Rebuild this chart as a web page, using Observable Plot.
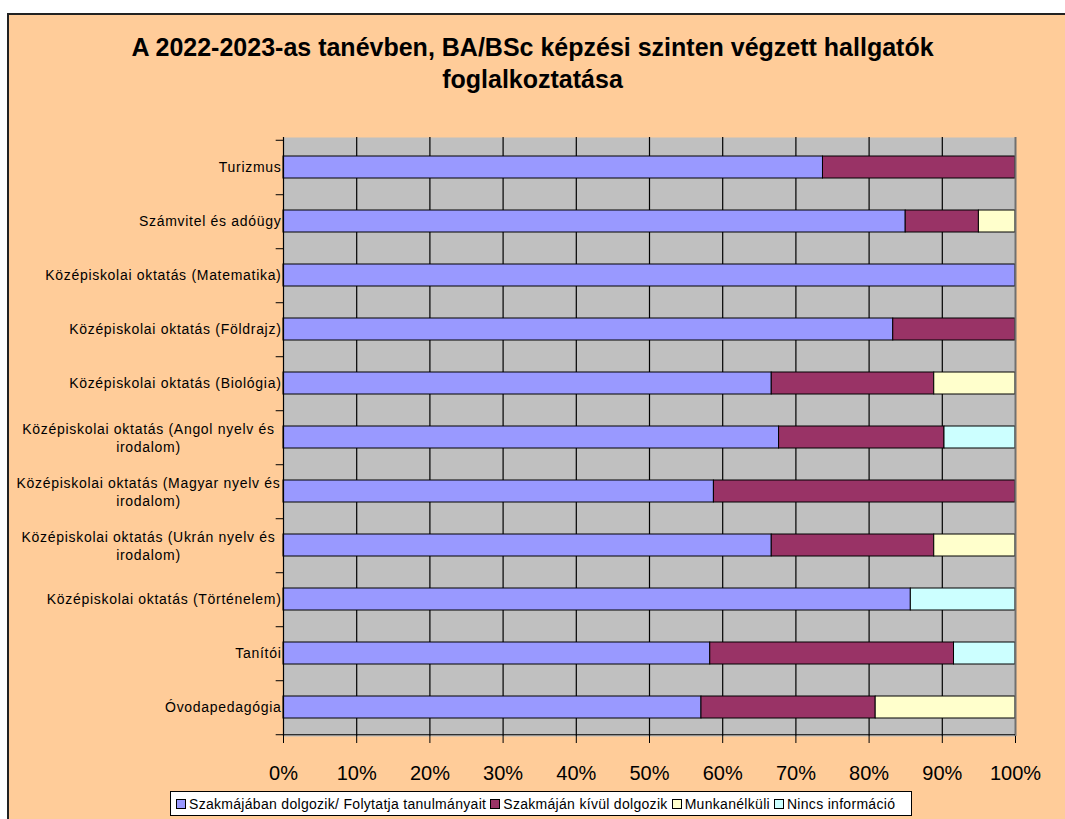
<!DOCTYPE html>
<html><head><meta charset="utf-8">
<script src="https://cdn.jsdelivr.net/npm/d3@7"></script>
<script src="https://cdn.jsdelivr.net/npm/@observablehq/plot@0.6"></script>
<style>
body{margin:0;background:#fff;font-family:"Liberation Sans",Arial,sans-serif;overflow:hidden;}
#frame{position:absolute;left:7px;top:13px;width:1070px;height:820px;background:#FFCC99;border-left:2px solid #222;border-top:2px solid #222;}
#title{position:absolute;left:0;top:31px;width:1065px;text-align:center;font-weight:bold;font-size:25px;line-height:32px;color:#000;}
#chart{position:absolute;left:0;top:100px;}
#chart g[aria-label="text"] text{letter-spacing:0.7px;}
#legend{position:absolute;left:170px;top:791px;width:742px;height:25px;background:#fff;border:1px solid #000;box-sizing:border-box;display:flex;align-items:center;font-size:14px;letter-spacing:0.3px;padding-left:5px;white-space:nowrap;}
#legend .sw{display:inline-block;width:8px;height:8px;border:1px solid #000;margin-right:3px;}
#legend .it{margin-right:4px;display:flex;align-items:center;}
</style>
</head><body>
<div id="frame"></div>
<div id="title">A 2022-2023-as tanévben, BA/BSc képzési szinten végzett hallgatók<br>foglalkoztatása</div>
<div id="chart"></div>
<div id="legend"></div>
<script>
const categories = [
  "Turizmus",
  "Számvitel és adóügy",
  "Középiskolai oktatás (Matematika)",
  "Középiskolai oktatás (Földrajz)",
  "Középiskolai oktatás (Biológia)",
  "Középiskolai oktatás (Angol nyelv és irodalom)",
  "Középiskolai oktatás (Magyar nyelv és irodalom)",
  "Középiskolai oktatás (Ukrán nyelv és irodalom)",
  "Középiskolai oktatás (Történelem)",
  "Tanítói",
  "Óvodapedagógia"
];
const categoryLabels = [
  "Turizmus",
  "Számvitel és adóügy",
  "Középiskolai oktatás (Matematika)",
  "Középiskolai oktatás (Földrajz)",
  "Középiskolai oktatás (Biológia)",
  "Középiskolai oktatás (Angol nyelv és\nirodalom)",
  "Középiskolai oktatás (Magyar nyelv és\nirodalom)",
  "Középiskolai oktatás (Ukrán nyelv és\nirodalom)",
  "Középiskolai oktatás (Történelem)",
  "Tanítói",
  "Óvodapedagógia"
];
const seriesNames = ["Szakmájában dolgozik/ Folytatja tanulmányait","Szakmáján kívül dolgozik","Munkanélküli","Nincs információ"];
const seriesColors = ["#9999FF","#993366","#FFFFCC","#CCFFFF"];
const szakmajaban    = [73.7, 85.0, 100, 83.3, 66.7, 67.7, 58.8, 66.7, 85.7, 58.3, 57.1];
const szakmajanKivul = [26.3, 10.0,   0, 16.7, 22.2, 22.6, 41.2, 22.2,  0.0, 33.3, 23.8];
const munkanelkuli   = [ 0.0,  5.0,   0,  0.0, 11.1,  0.0,  0.0, 11.1,  0.0,  0.0, 19.1];
const nincsInfo      = [ 0.0,  0.0,   0,  0.0,  0.0,  9.7,  0.0,  0.0, 14.3,  8.4,  0.0];
const xTicks = [0,10,20,30,40,50,60,70,80,90,100];

const seriesValues = [szakmajaban, szakmajanKivul, munkanelkuli, nincsInfo];
const data = [];
categories.forEach((c, i) => {
  seriesNames.forEach((s, j) => {
    const v = seriesValues[j][i];
    if (v > 0) data.push({cat: c, series: s, value: v});
  });
});
const labelOf = new Map(categories.map((c, i) => [c, categoryLabels[i]]));
const single = categories.filter(c => !labelOf.get(c).includes("\n"));
const wrapped = categories.filter(c => labelOf.get(c).includes("\n"));
const step = 599 / 11;

const chart = Plot.plot({
  width: 1065, height: 700,
  marginLeft: 283, marginRight: 50, marginTop: 37, marginBottom: 64,
  style: {background: "transparent", fontFamily: "'Liberation Sans', Arial, sans-serif", color: "#000", overflow: "visible"},
  x: {domain: [0, 100], axis: null, label: null},
  y: {domain: categories, paddingInner: 0.6, paddingOuter: 0.3, axis: null, label: null},
  color: {domain: seriesNames, range: seriesColors},
  marks: [
    Plot.frame({fill: "#C0C0C0", stroke: null}),
    Plot.ruleX(xTicks.filter(d => d > 0 && d < 100), {stroke: "#000", strokeWidth: 1.2}),
    Plot.barX(data, Plot.stackX({x: "value", y: "cat", fill: "series", stroke: "#000", strokeWidth: 1, order: seriesNames})),
    Plot.ruleX([100], {stroke: "#707070", strokeWidth: 2}),
    Plot.ruleX([0], {stroke: "#000", strokeWidth: 1.2}),
    Plot.ruleY([categories[categories.length - 1]], {x1: 0, x2: 100, dy: step / 2, stroke: "#000", strokeWidth: 1.2}),
    Plot.ruleY(categories, {x1: -1, x2: 0, dy: step / 2, stroke: "#000"}),
    Plot.ruleY([categories[0]], {x1: -1, x2: 0, dy: -step / 2, stroke: "#000"}),
    Plot.axisX({ticks: xTicks, tickFormat: d => d + "%", tickSize: 7, tickPadding: 22, fontSize: 20, anchor: "bottom", stroke: "#000", label: null}),
    Plot.text(single, {x: 0, y: d => d, text: d => labelOf.get(d), textAnchor: "end", dx: -2, fontSize: 14, fill: "#000"}),
    Plot.text(wrapped, {x: 0, y: d => d, text: d => labelOf.get(d), textAnchor: "middle", dx: -135, fontSize: 14, lineHeight: 1.28, fill: "#000"})
  ]
});
document.getElementById("chart").appendChild(chart);

const leg = document.getElementById("legend");
seriesNames.forEach((s, i) => {
  const it = document.createElement("span");
  it.className = "it";
  const sw = document.createElement("span");
  sw.className = "sw";
  sw.style.background = seriesColors[i];
  it.appendChild(sw);
  it.appendChild(document.createTextNode(s));
  leg.appendChild(it);
});
</script>
</body></html>
